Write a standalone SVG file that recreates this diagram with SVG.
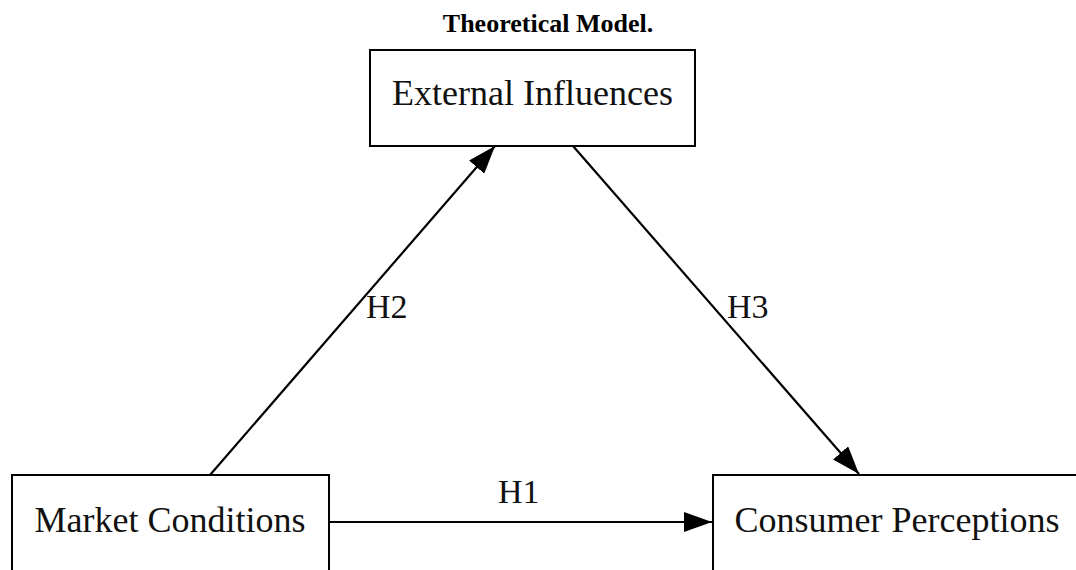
<svg xmlns="http://www.w3.org/2000/svg" width="1076" height="570" viewBox="0 0 1076 570">
<style>
.box{fill:#fff;stroke:#000;stroke-width:2}
.lbl{font-family:"Liberation Serif","Times New Roman",serif;font-size:36px;fill:#111;text-anchor:middle}
.hyp{font-family:"Liberation Serif","Times New Roman",serif;font-size:34px;fill:#111}
.edge{fill:none;stroke:#000;stroke-width:2.2}
.title{font-family:"Liberation Serif","Times New Roman",serif;font-size:26px;font-weight:bold;fill:#000;text-anchor:middle}
</style>
<defs>
<marker id="arr" markerWidth="28" markerHeight="20" refX="28" refY="10" orient="auto" markerUnits="userSpaceOnUse">
<path d="M0,0 L28,10 L0,20 Z" fill="#000"/>
</marker>
</defs>
<rect width="1076" height="570" fill="#fff"/>
<text class="title" x="548" y="32">Theoretical Model.</text>
<g id="connectors">
<line class="edge" x1="210" y1="475" x2="495" y2="146" marker-end="url(#arr)"/>
<line class="edge" x1="573" y1="146" x2="859" y2="474" marker-end="url(#arr)"/>
<line class="edge" x1="329" y1="522" x2="712" y2="522" marker-end="url(#arr)"/>
<text class="hyp" x="366" y="318">H2</text>
<text class="hyp" x="727" y="318">H3</text>
<text class="hyp" x="498" y="503">H1</text>
</g>
<g id="external-influences">
<rect class="box" x="370" y="50" width="325" height="96"/>
<text class="lbl" x="532.5" y="105">External Influences</text>
</g>
<g id="market-conditions">
<rect class="box" x="12" y="475" width="317" height="120"/>
<text class="lbl" x="170" y="532">Market Conditions</text>
</g>
<g id="consumer-perceptions">
<rect class="box" x="713" y="475" width="400" height="120"/>
<text class="lbl" x="897" y="532">Consumer Perceptions</text>
</g>
</svg>
